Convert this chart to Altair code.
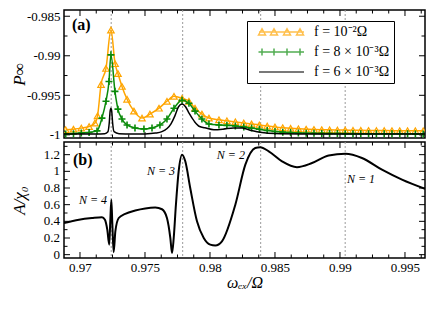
import altair as alt
import pandas as pd

# ---------------- data ----------------
X_DOMAIN = [0.96877, 0.99654]
P_DOMAIN = [-1.0004, -0.98421]
A_DOMAIN = [-0.04, 1.352]

resonances = [0.9724, 0.9779, 0.9839, 0.9904]

series_names = ["f = 10⁻²Ω", "f = 8 × 10⁻³Ω", "f = 6 × 10⁻³Ω"]
series_colors = ["#FFA500", "#0A8A0A", "#000000"]

orange_w = [0.9689, 0.9695, 0.9701, 0.9707, 0.97115, 0.97135, 0.97162, 0.97200, 0.97238, 0.97270,
            0.97292, 0.97323, 0.97362, 0.97415, 0.97477, 0.97538, 0.97608, 0.97669, 0.97723, 0.97785,
            0.97838, 0.97885, 0.97938, 0.97992, 0.98069, 0.98130, 0.98195, 0.98260, 0.98320, 0.98380,
            0.98440, 0.98500, 0.98560, 0.98620, 0.98680, 0.98740, 0.98800, 0.98860, 0.98920, 0.98980,
            0.99040, 0.99100, 0.99160, 0.99220, 0.99280, 0.99340, 0.99400, 0.99460, 0.99520, 0.99580,
            0.99640]
orange_p = [-0.99935, -0.99928, -0.99915, -0.99895, -0.99850, -0.99760, -0.99363, -0.99160, -0.98675, -0.99100,
            -0.99225, -0.99388, -0.99550, -0.99700, -0.99788, -0.99738, -0.99663, -0.99575, -0.99513, -0.99538,
            -0.99575, -0.99663, -0.99738, -0.99788, -0.99810, -0.99822, -0.99836, -0.99850, -0.99862, -0.99875,
            -0.99888, -0.99900, -0.99910, -0.99918, -0.99924, -0.99928, -0.99932, -0.99935, -0.99937, -0.99939,
            -0.99940, -0.99942, -0.99943, -0.99944, -0.99945, -0.99946, -0.99947, -0.99947, -0.99948, -0.99948,
            -0.99949]

green_w = [0.9689, 0.9695, 0.9701, 0.9707, 0.97131, 0.97169, 0.97200, 0.97223, 0.97238, 0.97269,
           0.97292, 0.97323, 0.97362, 0.97423, 0.97492, 0.97554, 0.97615, 0.97669, 0.97723, 0.97785,
           0.97838, 0.97885, 0.97938, 0.97992, 0.98069, 0.98130, 0.98195, 0.98260, 0.98320, 0.98380,
           0.98440, 0.98500, 0.98560, 0.98620, 0.98680, 0.98740, 0.98800, 0.98860, 0.98920, 0.98980,
           0.99040, 0.99100, 0.99160, 0.99220, 0.99280, 0.99340, 0.99400, 0.99460, 0.99520, 0.99580,
           0.99640]
green_p = [-0.99988, -0.99985, -0.99976, -0.99970, -0.99950, -0.99788, -0.99575, -0.99325, -0.98988, -0.99450,
           -0.99675, -0.99800, -0.99875, -0.99913, -0.99925, -0.99913, -0.99875, -0.99800, -0.99663, -0.99563,
           -0.99600, -0.99700, -0.99800, -0.99863, -0.99875, -0.99880, -0.99888, -0.99900, -0.99915, -0.99930,
           -0.99945, -0.99958, -0.99966, -0.99972, -0.99976, -0.99979, -0.99981, -0.99982, -0.99983, -0.99984,
           -0.99985, -0.99985, -0.99986, -0.99986, -0.99986, -0.99987, -0.99987, -0.99987, -0.99987, -0.99988,
           -0.99988]

black_w = [0.96877, 0.9700, 0.9712, 0.9719, 0.97215, 0.97225, 0.97232, 0.97238, 0.97244, 0.97251,
           0.97262, 0.9730, 0.9740, 0.9750, 0.9758, 0.9763, 0.9767, 0.9770, 0.9773, 0.97758,
           0.97785, 0.97812, 0.9784, 0.9788, 0.9792, 0.9796, 0.9803, 0.9810, 0.9818, 0.9825,
           0.9832, 0.9840, 0.9850, 0.9870, 0.9900, 0.9930, 0.99654]
black_p = [-0.99990, -0.99990, -0.99989, -0.99985, -0.99960, -0.99850, -0.99700, -0.99663, -0.99700, -0.99850,
           -0.99960, -0.99986, -0.99990, -0.99988, -0.99978, -0.99960, -0.99920, -0.99860, -0.99760, -0.99645,
           -0.99611, -0.99645, -0.99730, -0.99830, -0.99895, -0.99910, -0.99935, -0.99928, -0.99912, -0.99915,
           -0.99945, -0.99970, -0.99984, -0.99989, -0.99990, -0.99990, -0.99990]

amp_w = [0.96877, 0.96992, 0.97092, 0.97169, 0.97192, 0.97210, 0.97225, 0.97233, 0.97241, 0.97249,
         0.97259, 0.97272, 0.97298, 0.97348, 0.97425, 0.97502, 0.97579, 0.97631, 0.97669, 0.97695,
         0.97708, 0.97721, 0.97738, 0.97759, 0.97785, 0.97810, 0.97848, 0.97900, 0.97952, 0.98002,
         0.98041, 0.98092, 0.98195, 0.98272, 0.98348, 0.98387, 0.98452, 0.98554, 0.98669, 0.98785,
         0.98913, 0.99041, 0.99169, 0.99323, 0.99477, 0.99654]
amp_a = [0.38, 0.42, 0.44, 0.45, 0.42, 0.30, 0.12, 0.40, 0.66, 0.36,
         0.03, 0.28, 0.44, 0.49, 0.53, 0.555, 0.565, 0.545, 0.44, 0.20,
         0.02, 0.20, 0.60, 1.00, 1.20, 1.12, 0.80, 0.40, 0.20, 0.12,
         0.11, 0.16, 0.60, 1.08, 1.28, 1.29, 1.24, 1.12, 1.05, 1.10,
         1.19, 1.21, 1.16, 1.02, 0.90, 0.79]

n_labels_right = ["N = 4", "N = 3", "N = 2"]
n_right_w = [0.97208, 0.97731, 0.98269]
n_right_a = [0.66, 1.00, 1.20]
n_labels_left = ["N = 1"]
n_left_w = [0.99054]
n_left_a = [0.91]

x_major = [0.97, 0.975, 0.98, 0.985, 0.99, 0.995]
x_minor = [0.97125, 0.9725, 0.97375, 0.97625, 0.9775, 0.97875, 0.98125, 0.9825, 0.98375,
           0.98625, 0.9875, 0.98875, 0.99125, 0.9925, 0.99375, 0.99625]
p_major = [-1.0, -0.995, -0.99, -0.985]
p_minor = [-0.9975, -0.9925, -0.9875]
a_major = [0.0, 0.2, 0.4, 0.6, 0.8, 1.0, 1.2]
a_tick_labels = ["0", "0.2", "0.4", "0.6", "0.8", "1", "1.2"]
a_minor = [0.1, 0.3, 0.5, 0.7, 0.9, 1.1, 1.3]

# ---------------- layout constants ----------------
W = 361
H1 = 128
H2 = 116
MAJ = 6
MIN = 3.5
SERIF = "Liberation Serif"

xs = alt.Scale(domain=X_DOMAIN, nice=False, zero=False)
ps = alt.Scale(domain=P_DOMAIN, nice=False, zero=False)
ascale = alt.Scale(domain=A_DOMAIN, nice=False, zero=False)


def X(field, show):
    if show:
        return alt.X(field, scale=xs)
    return alt.X(field, scale=xs, axis=None)


def x_ticks(vals, length, H, show):
    df = pd.DataFrame({"v": vals})
    base = alt.Chart(df).mark_rule(color="black", strokeWidth=1)
    top = base.encode(x=X("v:Q", show), y=alt.value(0), y2=alt.value(length))
    bot = base.encode(x=X("v:Q", show), y=alt.value(H), y2=alt.value(H - length))
    return [top, bot]


def y_ticks(vals, length, scale):
    df = pd.DataFrame({"v": vals})
    base = alt.Chart(df).mark_rule(color="black", strokeWidth=1)
    left = base.encode(y=alt.Y("v:Q", scale=scale), x=alt.value(0), x2=alt.value(length))
    right = base.encode(y=alt.Y("v:Q", scale=scale), x=alt.value(W), x2=alt.value(W - length))
    return [left, right]


def res_rules(show):
    df = pd.DataFrame({"v": resonances})
    return alt.Chart(df).mark_rule(color="#9a9a9a", strokeDash=[2, 2], strokeWidth=1).encode(
        x=X("v:Q", show))


# ---------------- top panel ----------------
odf = pd.DataFrame({"w": orange_w, "p": orange_p})
gdf = pd.DataFrame({"w": green_w, "p": green_p})
bdf = pd.DataFrame({"w": black_w, "p": black_p})


def line(df, color, width=1.5):
    return alt.Chart(df).mark_line(color=color, strokeWidth=width, clip=True, interpolate="monotone").encode(
        x=X("w:Q", False), y=alt.Y("p:Q", scale=ps))


orange_line = line(odf, series_colors[0])
green_line = line(gdf, series_colors[1])
black_line = line(bdf, series_colors[2])

orange_pts = alt.Chart(odf).mark_point(shape="triangle-up", filled=False, size=42, strokeWidth=1.2,
                                       color=series_colors[0], clip=True, opacity=1).encode(
    x=X("w:Q", False), y=alt.Y("p:Q", scale=ps))
green_pts = alt.Chart(gdf).mark_point(shape="M-1,0H1M0,-1V1", filled=False, size=49, strokeWidth=1.6,
                                      color=series_colors[1], clip=True, opacity=1).encode(
    x=X("w:Q", False), y=alt.Y("p:Q", scale=ps))

# legend symbols: a short line with four markers
centers = [0.8, 3.2, 5.8, 8.4]
tri = "".join(f"M{c-0.7:.2f},0.6L{c:.2f},-0.65L{c+0.7:.2f},0.6Z" for c in centers)
plus = "".join(f"M{c-0.7:.2f},0H{c+0.7:.2f}M{c:.2f},-0.7V0.7" for c in centers)
legend_paths = ["M0.2,0H9.2" + tri, "M0.2,0H9.2" + plus, "M0.2,0H9.2"]

legend_opts = dict(title=None, orient="none", legendX=183, legendY=11,
                   labelFont=SERIF, labelFontSize=14, labelColor="black",
                   symbolSize=100, symbolStrokeWidth=1.5, labelOffset=49, rowPadding=6,
                   padding=4, strokeColor="black", fillColor="white", cornerRadius=0, labelLimit=300)

leg_df = pd.DataFrame({"series": series_names})
legend_layer = alt.Chart(leg_df).mark_point(filled=False, size=100, strokeWidth=1.5).encode(
    x=alt.value(0), y=alt.value(0),
    color=alt.Color("series:N", scale=alt.Scale(domain=series_names, range=series_colors),
                    legend=alt.Legend(**legend_opts)),
    shape=alt.Shape("series:N", scale=alt.Scale(domain=series_names, range=legend_paths),
                    legend=alt.Legend(**legend_opts)),
).transform_filter("false")

ylab_top = alt.Chart(pd.DataFrame({"v": p_major})).mark_rule(color="black", strokeWidth=1).encode(
    y=alt.Y("v:Q", scale=ps, axis=alt.Axis(values=p_major, labelExpr="'-' + format(-datum.value, '~g')",
                                            ticks=False, domain=False, grid=False, title="P∞",
                                            titleFontStyle="italic", labelPadding=4, titlePadding=2,
                                            labelOverlap=False, minExtent=34, maxExtent=34)),
    x=alt.value(0), x2=alt.value(MAJ))

label_a = alt.Chart(pd.DataFrame({"t": ["(a)"]})).mark_text(
    font=SERIF, fontSize=16, fontWeight="bold", align="left", baseline="middle", color="black").encode(
    text="t:N", x=alt.value(8), y=alt.value(15))

top = alt.layer(
    ylab_top,
    res_rules(False),
    *x_ticks(x_major, MAJ, H1, False), *x_ticks(x_minor, MIN, H1, False),
    *y_ticks(p_major, MAJ, ps)[1:], *y_ticks(p_minor, MIN, ps),
    orange_line, orange_pts, green_line, green_pts, black_line,
    legend_layer, label_a,
).properties(width=W, height=H1)

# ---------------- bottom panel ----------------
adf = pd.DataFrame({"w": amp_w, "a": amp_a})
amp_line = alt.Chart(adf).mark_line(color="black", strokeWidth=2, clip=True, interpolate="monotone").encode(
    x=X("w:Q", True), y=alt.Y("a:Q", scale=ascale))

xlab_bottom = alt.Chart(pd.DataFrame({"v": x_major})).mark_rule(color="black", strokeWidth=1).encode(
    x=alt.X("v:Q", scale=xs, axis=alt.Axis(values=x_major,
                                            labelExpr="toString(round(datum.value * 1000) / 1000)",
                                            ticks=False, domain=False, grid=False,
                                            title="ωₑₓ/Ω", titleFontStyle="italic", titleFontSize=16,
                                            labelOverlap=False, labelPadding=3, titleY=16)),
    y=alt.value(H2), y2=alt.value(H2 - MAJ))

# y axis of panel (b): title from the axis, tick labels as text marks placed through the scale
ylab_bottom = alt.Chart(pd.DataFrame({"v": a_major})).mark_rule(color="black", strokeWidth=1).encode(
    y=alt.Y("v:Q", scale=ascale, axis=alt.Axis(values=a_major, labels=False,
                                                ticks=False, domain=False, grid=False,
                                                title="A/χ₀", titleFontStyle="italic",
                                                titlePadding=2, minExtent=34, maxExtent=34)),
    x=alt.value(0), x2=alt.value(MAJ))

ytext_bottom = alt.Chart(pd.DataFrame({"v": a_major, "t": a_tick_labels})).mark_text(
    font=SERIF, fontSize=13, align="right", baseline="middle", color="black", dx=-4).encode(
    text="t:N", x=alt.value(0), y=alt.Y("v:Q", scale=ascale))

nr = alt.Chart(pd.DataFrame({"t": n_labels_right, "w": n_right_w, "a": n_right_a})).mark_text(
    font=SERIF, fontSize=12, fontStyle="italic", align="right", baseline="middle", color="black").encode(
    text="t:N", x=X("w:Q", True), y=alt.Y("a:Q", scale=ascale))
nl = alt.Chart(pd.DataFrame({"t": n_labels_left, "w": n_left_w, "a": n_left_a})).mark_text(
    font=SERIF, fontSize=12, fontStyle="italic", align="left", baseline="middle", color="black").encode(
    text="t:N", x=X("w:Q", True), y=alt.Y("a:Q", scale=ascale))

label_b = alt.Chart(pd.DataFrame({"t": ["(b)"]})).mark_text(
    font=SERIF, fontSize=16, fontWeight="bold", align="left", baseline="middle", color="black").encode(
    text="t:N", x=alt.value(9), y=alt.value(18))

bottom = alt.layer(
    xlab_bottom, ylab_bottom,
    res_rules(True),
    *x_ticks(x_major, MAJ, H2, True)[:1], *x_ticks(x_minor, MIN, H2, True),
    *y_ticks(a_major, MAJ, ascale)[1:], *y_ticks(a_minor, MIN, ascale),
    ytext_bottom,
    amp_line, nr, nl, label_b,
).properties(width=W, height=H2)

chart = alt.vconcat(top, bottom, spacing=4, bounds="flush").properties(
    padding={"left": 1, "top": 0, "right": 0, "bottom": 0}
).configure_view(stroke="black", strokeWidth=1.5).configure_axis(
    labelFont=SERIF, labelFontSize=13, labelColor="black",
    titleFont=SERIF, titleFontSize=17, titleFontWeight="normal", titleColor="black"
)

chart.save("out.html", embed_options={"renderer": "svg", "actions": False})
